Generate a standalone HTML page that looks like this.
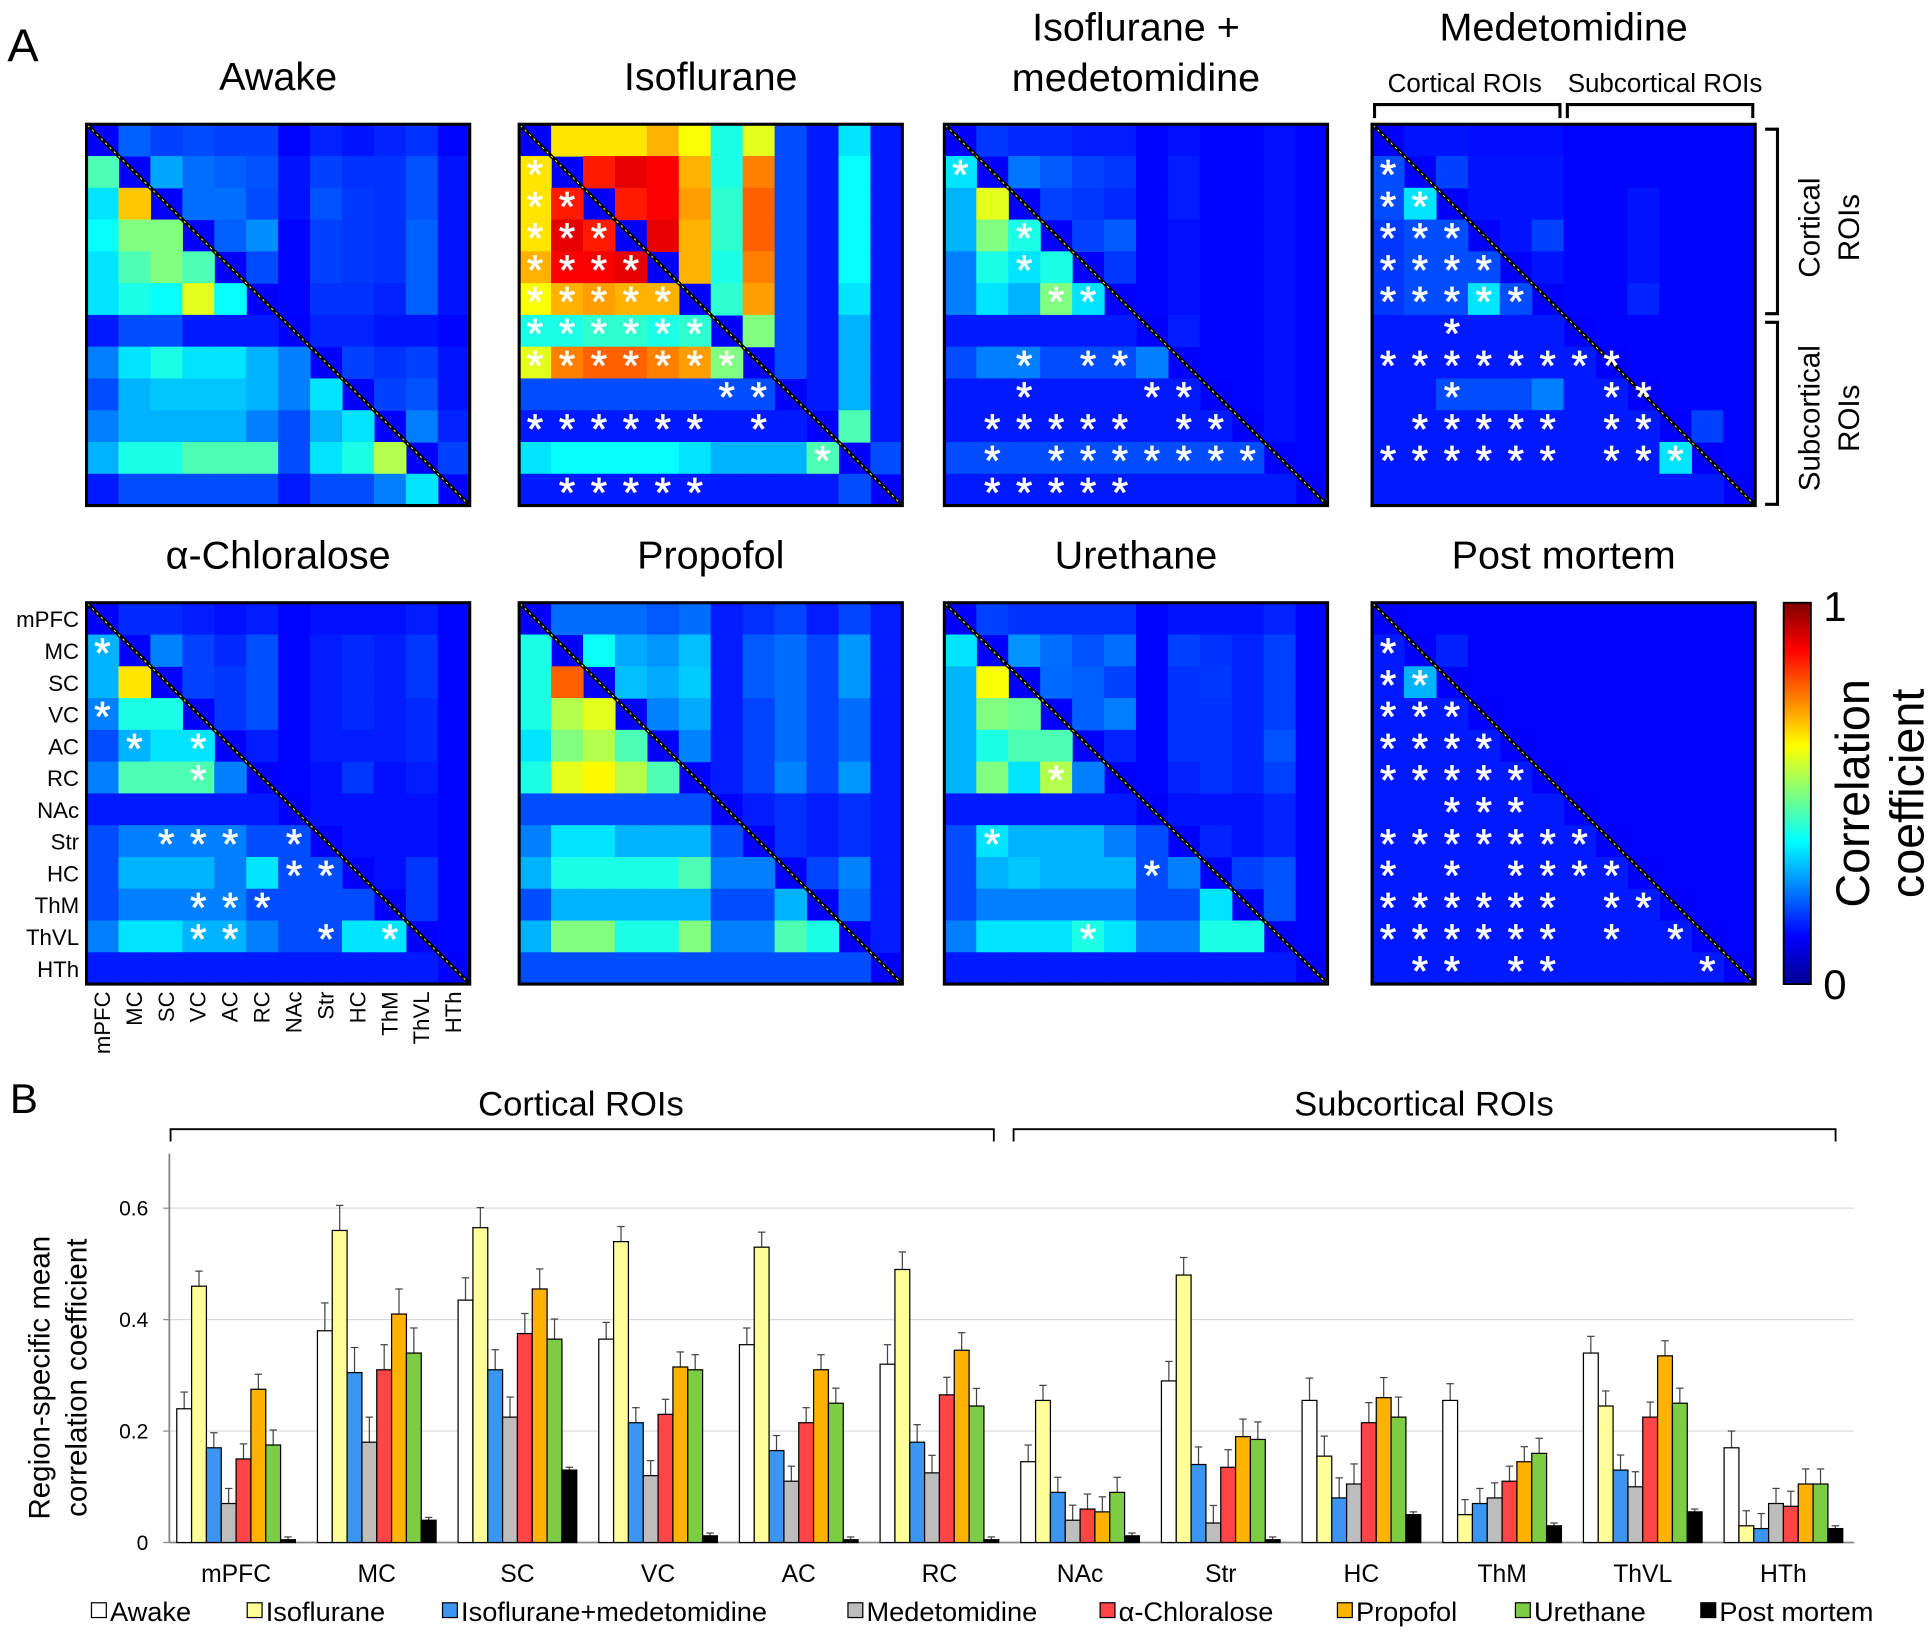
<!DOCTYPE html>
<html><head><meta charset="utf-8"><style>
html,body{margin:0;padding:0;background:#fff;}
svg{display:block;font-family:"Liberation Sans",sans-serif;}
</style></head><body>
<svg id="fig" width="1932" height="1636" viewBox="0 0 1563 1330" preserveAspectRatio="none" xmlns="http://www.w3.org/2000/svg">
<defs>
<linearGradient id="jet" x1="0" y1="1" x2="0" y2="0">
<stop offset="0" stop-color="#00008f"/><stop offset="0.125" stop-color="#0000ff"/><stop offset="0.375" stop-color="#00ffff"/><stop offset="0.625" stop-color="#ffff00"/><stop offset="0.875" stop-color="#ff0000"/><stop offset="1" stop-color="#800000"/>
</linearGradient>
</defs>
<g id="heat"></g>
<g id="bars"></g>
</svg>
<script>
const NS='http://www.w3.org/2000/svg';
const rois=['mPFC','MC','SC','VC','AC','RC','NAc','Str','HC','ThM','ThVL','HTh'];
const conditions=['Awake','Isoflurane','Isoflurane+medetomidine','Medetomidine','α-Chloralose','Propofol','Urethane','Post mortem'];
const matAwake=[[],[0.45],[0.35,0.68],[0.38,0.5,0.5],[0.35,0.45,0.5,0.45],[0.35,0.4,0.38,0.6,0.38],[0.15,0.2,0.2,0.15,0.15,0.15],[0.25,0.35,0.4,0.35,0.35,0.3,0.25],[0.2,0.3,0.32,0.32,0.32,0.3,0.25,0.35],[0.25,0.3,0.3,0.3,0.3,0.25,0.2,0.3,0.35],[0.3,0.4,0.4,0.45,0.45,0.45,0.2,0.35,0.4,0.55],[0.15,0.2,0.2,0.2,0.2,0.2,0.15,0.2,0.2,0.25,0.35]];
const matIso=[[],[0.65],[0.65,0.85],[0.65,0.9,0.85],[0.7,0.88,0.88,0.9],[0.62,0.7,0.72,0.7,0.7],[0.4,0.4,0.42,0.42,0.4,0.42],[0.6,0.75,0.78,0.78,0.75,0.72,0.5],[0.2,0.2,0.2,0.2,0.2,0.2,0.2,0.2],[0.15,0.15,0.15,0.15,0.15,0.15,0.15,0.15,0.15],[0.35,0.38,0.38,0.38,0.38,0.35,0.3,0.3,0.3,0.45],[0.15,0.15,0.15,0.15,0.15,0.15,0.15,0.15,0.15,0.15,0.2]];
const matIsoMed=[[],[0.35],[0.3,0.6],[0.3,0.5,0.4],[0.25,0.4,0.35,0.4],[0.25,0.35,0.3,0.5,0.35],[0.15,0.15,0.15,0.15,0.15,0.15],[0.2,0.25,0.25,0.2,0.2,0.2,0.25],[0.15,0.15,0.15,0.15,0.15,0.15,0.15,0.15],[0.15,0.15,0.15,0.15,0.15,0.15,0.15,0.15,0.15],[0.2,0.2,0.2,0.2,0.2,0.2,0.2,0.2,0.2,0.2],[0.15,0.15,0.15,0.15,0.15,0.15,0.15,0.15,0.15,0.15,0.15]];
const matMed=[[],[0.2],[0.2,0.35],[0.18,0.2,0.2],[0.18,0.2,0.2,0.2],[0.18,0.2,0.2,0.35,0.2],[0.15,0.15,0.15,0.15,0.15,0.15],[0.15,0.15,0.15,0.15,0.15,0.15,0.15],[0.15,0.15,0.2,0.2,0.2,0.25,0.15,0.15],[0.15,0.15,0.15,0.15,0.15,0.15,0.15,0.15,0.15],[0.15,0.15,0.15,0.15,0.15,0.15,0.15,0.15,0.15,0.35],[0.15,0.15,0.15,0.15,0.15,0.15,0.15,0.15,0.15,0.15,0.15]];
const matChl=[[],[0.3],[0.3,0.65],[0.25,0.4,0.4],[0.2,0.3,0.35,0.35],[0.25,0.45,0.45,0.45,0.25],[0.15,0.15,0.15,0.15,0.15,0.15],[0.2,0.25,0.25,0.25,0.25,0.2,0.2],[0.2,0.3,0.3,0.3,0.25,0.35,0.2,0.2],[0.2,0.25,0.25,0.25,0.25,0.2,0.2,0.2,0.2],[0.25,0.35,0.35,0.3,0.3,0.25,0.2,0.2,0.35,0.35],[0.15,0.15,0.15,0.15,0.15,0.15,0.15,0.15,0.15,0.15,0.15]];
const matProp=[[],[0.4],[0.4,0.78],[0.4,0.55,0.6],[0.35,0.5,0.55,0.45],[0.4,0.6,0.63,0.55,0.45],[0.2,0.2,0.2,0.2,0.2,0.2],[0.25,0.35,0.35,0.3,0.3,0.3,0.2],[0.3,0.4,0.4,0.4,0.4,0.45,0.25,0.25],[0.2,0.3,0.3,0.3,0.3,0.3,0.2,0.2,0.3],[0.3,0.5,0.5,0.4,0.4,0.5,0.25,0.25,0.45,0.4],[0.2,0.2,0.2,0.2,0.2,0.2,0.2,0.2,0.2,0.2,0.2]];
const matUre=[[],[0.35],[0.3,0.62],[0.3,0.5,0.48],[0.3,0.4,0.45,0.45],[0.3,0.5,0.35,0.55,0.25],[0.15,0.15,0.15,0.15,0.15,0.15],[0.2,0.35,0.3,0.3,0.3,0.25,0.2],[0.2,0.3,0.32,0.3,0.3,0.3,0.2,0.25],[0.2,0.25,0.25,0.25,0.25,0.25,0.2,0.2,0.35],[0.25,0.35,0.35,0.35,0.4,0.35,0.25,0.25,0.4,0.4],[0.15,0.15,0.15,0.15,0.15,0.15,0.15,0.15,0.15,0.15,0.15]];
const matPM=[[],[0.15],[0.15,0.3],[0.15,0.15,0.15],[0.15,0.15,0.15,0.15],[0.15,0.15,0.15,0.15,0.15],[0.15,0.15,0.15,0.15,0.15,0.15],[0.15,0.15,0.15,0.15,0.15,0.15,0.15],[0.15,0.15,0.15,0.15,0.15,0.15,0.15,0.15],[0.15,0.15,0.15,0.15,0.15,0.15,0.15,0.15,0.15],[0.15,0.15,0.15,0.15,0.15,0.15,0.15,0.15,0.15,0.15],[0.15,0.15,0.15,0.15,0.15,0.15,0.15,0.15,0.15,0.15,0.15]];
const starsIso=[[1,0],[2,0],[2,1],[3,0],[3,1],[3,2],[4,0],[4,1],[4,2],[4,3],[5,0],[5,1],[5,2],[5,3],[5,4],[6,0],[6,1],[6,2],[6,3],[6,4],[6,5],[7,0],[7,1],[7,2],[7,3],[7,4],[7,5],[7,6],[8,6],[8,7],[9,0],[9,1],[9,2],[9,3],[9,4],[9,5],[9,7],[10,9],[11,1],[11,2],[11,3],[11,4],[11,5]];
const starsIsoMed=[[1,0],[3,2],[4,2],[5,3],[5,4],[7,2],[7,4],[7,5],[8,2],[8,6],[8,7],[9,1],[9,2],[9,3],[9,4],[9,5],[9,7],[9,8],[10,1],[10,3],[10,4],[10,5],[10,6],[10,7],[10,8],[10,9],[11,1],[11,2],[11,3],[11,4],[11,5]];
const starsMed=[[1,0],[2,0],[2,1],[3,0],[3,1],[3,2],[4,0],[4,1],[4,2],[4,3],[5,0],[5,1],[5,2],[5,3],[5,4],[6,2],[7,0],[7,1],[7,2],[7,3],[7,4],[7,5],[7,6],[7,7],[8,2],[8,7],[8,8],[9,1],[9,2],[9,3],[9,4],[9,5],[9,7],[9,8],[10,0],[10,1],[10,2],[10,3],[10,4],[10,5],[10,7],[10,8],[10,9]];
const starsChl=[[1,0],[3,0],[4,1],[4,3],[5,3],[7,2],[7,3],[7,4],[7,6],[8,6],[8,7],[9,3],[9,4],[9,5],[10,3],[10,4],[10,7],[10,9]];
const starsUre=[[5,3],[7,1],[8,6],[10,4]];
const starsPM=[[1,0],[2,0],[2,1],[3,0],[3,1],[3,2],[4,0],[4,1],[4,2],[4,3],[5,0],[5,1],[5,2],[5,3],[5,4],[6,2],[6,3],[6,4],[7,0],[7,1],[7,2],[7,3],[7,4],[7,5],[7,6],[8,0],[8,2],[8,4],[8,5],[8,6],[8,7],[9,0],[9,1],[9,2],[9,3],[9,4],[9,5],[9,7],[9,8],[10,0],[10,1],[10,2],[10,3],[10,4],[10,5],[10,7],[10,9],[11,1],[11,2],[11,4],[11,5],[11,10]];
const valAwake=[0.24,0.38,0.435,0.365,0.355,0.32,0.145,0.29,0.255,0.255,0.34,0.17];
const valIso=[0.46,0.56,0.565,0.54,0.53,0.49,0.255,0.48,0.155,0.05,0.245,0.03];
const valIsoMed=[0.17,0.305,0.31,0.215,0.165,0.18,0.09,0.14,0.08,0.07,0.13,0.025];
const valMed=[0.07,0.18,0.225,0.12,0.11,0.125,0.04,0.035,0.105,0.08,0.1,0.07];
const valChl=[0.15,0.31,0.375,0.23,0.215,0.265,0.06,0.135,0.215,0.11,0.225,0.065];
const valProp=[0.275,0.41,0.455,0.315,0.31,0.345,0.055,0.19,0.26,0.145,0.335,0.105];
const valUre=[0.175,0.34,0.365,0.31,0.25,0.245,0.09,0.185,0.225,0.16,0.25,0.105];
const valPM=[0.005,0.04,0.13,0.012,0.005,0.005,0.012,0.005,0.05,0.03,0.055,0.025];
const errAll=[0.03,0.05,0.04,0.03,0.03,0.035,0.03,0.035,0.04,0.03,0.03,0.03];
const yTicks=[0,0.2,0.4,0.6];
const series=[valAwake,valIso,valIsoMed,valMed,valChl,valProp,valUre,valPM];
const barColors=['#ffffff','#ffff99','#3a96f0','#bdbdbd','#ff4545','#ffb300','#7ccc44','#000000'];

function el(tag,attrs,parent,text){const e=document.createElementNS(NS,tag);for(const k in attrs)e.setAttribute(k,attrs[k]);if(text!==undefined)e.textContent=text;(parent||svg).appendChild(e);return e;}
const svg=document.getElementById('fig');
function jet(v){v=Math.max(0,Math.min(1,v));const stops=[[0,[0,0,143]],[0.125,[0,0,255]],[0.375,[0,255,255]],[0.625,[255,255,0]],[0.875,[255,0,0]],[1,[128,0,0]]];
for(let i=0;i<stops.length-1;i++){const a=stops[i],b=stops[i+1];if(v<=b[0]){const t=(v-a[0])/(b[0]-a[0]);return 'rgb('+a[1].map((c,j)=>Math.round(c+(b[1][j]-c)*t)).join(',')+')';}}return 'rgb(128,0,0)';}

const heat=document.getElementById('heat');
const panels=[
 {name:'awake',title:['Awake'],x:70,y:101,m:matAwake,s:[],up:0.3,top:false},
 {name:'isoflurane',title:['Isoflurane'],x:420,y:101,m:matIso,s:starsIso,up:1.0,top:false},
 {name:'isoflurane-medetomidine',title:['Isoflurane +','medetomidine'],x:764,y:101,m:matIsoMed,s:starsIsoMed,up:0.25,top:true},
 {name:'medetomidine',title:['Medetomidine'],x:1110,y:101,m:matMed,s:starsMed,up:0.3,top:true},
 {name:'alpha-chloralose',title:['α-Chloralose'],x:70,y:490,m:matChl,s:starsChl,up:0.25,top:false},
 {name:'propofol',title:['Propofol'],x:420,y:490,m:matProp,s:[],up:0.4,top:false},
 {name:'urethane',title:['Urethane'],x:764,y:490,m:matUre,s:starsUre,up:0.3,top:false},
 {name:'post-mortem',title:['Post mortem'],x:1110,y:490,m:matPM,s:starsPM,up:0.2,top:false}];
const S=310,N=12,cs=S/N;
panels.forEach(p=>{
 const g=el('g',{},heat);
 
 
 el('rect',{x:p.x,y:p.y,width:S,height:S,fill:jet(0.12)},g);
 for(let r=1;r<N;r++)for(let c=0;c<r;c++){
  const v=p.m[r][c];
  const cell=el('rect',{x:p.x+c*cs,y:p.y+r*cs,width:cs+0.5,height:cs+0.5,fill:jet(v)},g);
  
  
  const uv=0.12+(v-0.12)*p.up;
  el('rect',{x:p.x+r*cs,y:p.y+c*cs,width:cs+0.5,height:cs+0.5,fill:jet(uv)},g);
 }
 el('line',{x1:p.x,y1:p.y,x2:p.x+S,y2:p.y+S,stroke:'#000',"stroke-width":3},g);
 el('line',{x1:p.x+1,y1:p.y+1,x2:p.x+S-1,y2:p.y+S-1,stroke:'#ffff66',"stroke-width":0.8,"stroke-dasharray":"2 3"},g);
 el('rect',{x:p.x,y:p.y,width:S,height:S,fill:'none',stroke:'#000',"stroke-width":2.5},g);
 p.s.forEach(([r,c])=>{el('text',{x:p.x+c*cs+cs/2,y:p.y+r*cs+cs/2+14,"text-anchor":"middle","font-size":34,fill:'#fff',stroke:'#fff',"stroke-width":0.6},g,'*');});
 const lines=p.title;
 lines.forEach((t,i)=>{const ty=p.top?p.y-68+i*41:p.y-28;
  const te=el('text',{x:p.x+S/2,y:ty,"text-anchor":"middle","font-size":32,fill:'#000'},g,t);
  });
});
rois.forEach((r,i)=>{
 el('text',{x:64,y:490+i*cs+cs/2+7,"text-anchor":"end","font-size":18},heat,r);
 el('text',{x:0,y:0,"font-size":18,"text-anchor":"end",transform:`translate(${70+i*cs+cs/2+6},806) rotate(-90)`},heat,r);
});
const pA=el('text',{x:6,y:50,"font-size":38},heat,'A');
el('text',{x:1185,y:75,"text-anchor":"middle","font-size":21},heat,'Cortical ROIs');
el('text',{x:1347,y:75,"text-anchor":"middle","font-size":21},heat,'Subcortical ROIs');
el('path',{d:'M1112 96 V85 H1262 V96 M1268 96 V85 H1418 V96',fill:'none',stroke:'#000',"stroke-width":2.5},heat);
el('path',{d:'M1428 105 H1438 V255 H1428 M1428 262 H1438 V410 H1428',fill:'none',stroke:'#000',"stroke-width":2.5},heat);
el('text',{x:0,y:0,"font-size":24,"text-anchor":"middle",transform:'translate(1472,185) rotate(-90)'},heat,'Cortical');
el('text',{x:0,y:0,"font-size":24,"text-anchor":"middle",transform:'translate(1504,185) rotate(-90)'},heat,'ROIs');
el('text',{x:0,y:0,"font-size":24,"text-anchor":"middle",transform:'translate(1472,340) rotate(-90)'},heat,'Subcortical');
el('text',{x:0,y:0,"font-size":24,"text-anchor":"middle",transform:'translate(1504,340) rotate(-90)'},heat,'ROIs');
const cb=el('rect',{x:1443,y:490,width:22,height:310,fill:'url(#jet)',stroke:'#000',"stroke-width":1.5},heat);

el('text',{x:1475,y:505,"font-size":34},heat,'1');
el('text',{x:1475,y:812,"font-size":34},heat,'0');
el('text',{x:0,y:0,"font-size":38,"text-anchor":"middle",transform:'translate(1512,645) rotate(-90)'},heat,'Correlation');
el('text',{x:0,y:0,"font-size":38,"text-anchor":"middle",transform:'translate(1556,645) rotate(-90)'},heat,'coefficient');

const bars=document.getElementById('bars');
const X0=137,Y0=1254,PX=453,GW=113.8,BW=12,GX0=143;
const yS=v=>Y0-v*PX;
el('text',{x:8,y:905,"font-size":34},bars,'B');
el('text',{x:470,y:907,"text-anchor":"middle","font-size":28},bars,'Cortical ROIs');
el('text',{x:1152,y:907,"text-anchor":"middle","font-size":28},bars,'Subcortical ROIs');
el('path',{d:'M138 928 V918 H804 V928 M820 928 V918 H1485 V928',fill:'none',stroke:'#000',"stroke-width":1.5},bars);
yTicks.forEach(t=>{
 if(t>0)el('line',{x1:X0,x2:1500,y1:yS(t),y2:yS(t),stroke:'#d9d9d9',"stroke-width":1},bars);
 el('line',{x1:X0-5,x2:X0,y1:yS(t),y2:yS(t),stroke:'#888'},bars);
 el('text',{x:X0-17,y:yS(t)+6,"text-anchor":"end","font-size":17},bars,t===0?'0':t.toFixed(1));
});
el('line',{x1:X0,x2:X0,y1:938,y2:Y0,stroke:'#888',"stroke-width":1.5},bars);
el('line',{x1:X0,x2:1500,y1:Y0,y2:Y0,stroke:'#888',"stroke-width":1.5},bars);
el('text',{x:0,y:0,"font-size":24,"text-anchor":"middle",transform:'translate(40,1120) rotate(-90)'},bars,'Region-specific mean');
el('text',{x:0,y:0,"font-size":24,"text-anchor":"middle",transform:'translate(70,1120) rotate(-90)'},bars,'correlation coefficient');
rois.forEach((r,gi)=>{
 const gx=GX0+gi*GW;
 el('text',{x:gx+48,y:1286,"text-anchor":"middle","font-size":20},bars,r);
 series.forEach((s,si)=>{
  const v=s[gi],x=gx+si*BW,e=(si==7?0.005:errAll[gi]*(si==0?1:0.9));
  el('line',{x1:x+BW/2,x2:x+BW/2,y1:yS(v),y2:yS(v+e),stroke:'#444',"stroke-width":1},bars);
  el('line',{x1:x+BW/2-3,x2:x+BW/2+3,y1:yS(v+e),y2:yS(v+e),stroke:'#444',"stroke-width":1},bars);
  const b=el('rect',{x:x,y:yS(v),width:BW,height:v*PX,fill:barColors[si],stroke:'#000',"stroke-width":1},bars);
  
  
 });
});
const legX=[74,200,358,686,890,1082,1226,1376];
conditions.forEach((c,i)=>{
 const g=el('g',{},bars);
 
 
 el('rect',{x:legX[i],y:1303,width:12,height:12,fill:barColors[i],stroke:'#000'},g);
 el('text',{x:legX[i]+15,y:1318,"font-size":22},g,c);
});
</script>
</body></html>
